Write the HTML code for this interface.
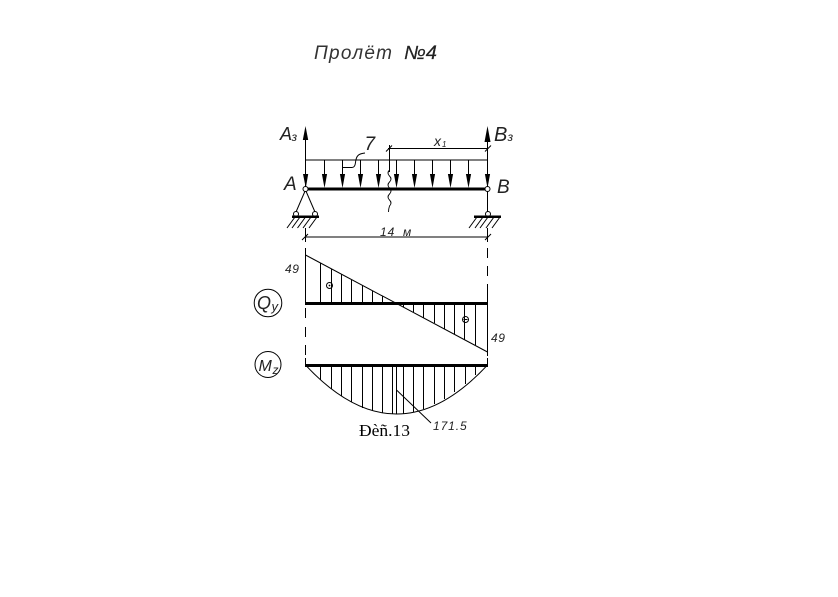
<!DOCTYPE html>
<html>
<head>
<meta charset="utf-8">
<style>
html,body{margin:0;padding:0;background:#fff;width:838px;height:597px;overflow:hidden}
svg{display:block}
text{font-family:"Liberation Sans",sans-serif;font-style:italic;fill:#222}
</style>
</head>
<body>
<svg width="838" height="597" viewBox="0 0 838 597" xmlns="http://www.w3.org/2000/svg">
<rect width="838" height="597" fill="#fff"/>
<text x="314" y="59" font-size="19" textLength="78" lengthAdjust="spacing" style="fill:#333">Пролёт</text>
<text x="404" y="59" font-size="19" textLength="33" lengthAdjust="spacingAndGlyphs" stroke="#222" stroke-width="0.2" style="fill:#222">№4</text>

<g stroke="#000" stroke-width="1" fill="none">
<path d="M305.5 138V189M487.5 138V213"/>
<path d="M305.5 160H487.5"/>
<path d="M324.5 160V175M342.5 160V175M360.5 160V175M378.5 160V175M396.5 160V175M414.5 160V175M432.5 160V175M450.5 160V175M468.5 160V175"/>
<path d="M389.5 145V172"/>
<path d="M389.5 170q-3 3 0 6t0 6q-3 3 0 6t0 6q-3 3 0 6t0 6q-1 3 -1 6" stroke-width="0.9"/>
<path d="M342.5 167.5H352q3 0 3.5 -5t2.5 -7q2 -2 7 -2.5"/>
<path d="M388 148.5H488M386 151.5L392 145.5M485 151.5L491 145.5"/>
<path d="M305 237H488M302 240L308 234M485 240L491 234"/>
<path d="M305.5 190L296 212M305.5 190L315 212"/>
<path d="M295 217L287 228M300 217L292 228M305.5 217L297.5 228M311 217L303 228M317 217L309 228"/>
<path d="M477 217L469 228M483 217L475 228M488 217L480 228M494 217L486 228M500 217L492 228"/>
<path d="M305.5 228V242M487.5 228V242"/>
<circle cx="296" cy="214" r="2.5" fill="#fff"/>
<circle cx="315" cy="214" r="2.5" fill="#fff"/>
<circle cx="488" cy="214" r="2.5" fill="#fff"/>

<path d="M305.5 248V303M305.5 308V318M305.5 327V337M305.5 345V355M305.5 358V365"/>
<path d="M487.5 248V258M487.5 266V276M487.5 284V303V352M487.5 352V356M487.5 358V365"/>
<path d="M305.5 255L487.5 352"/>
<path d="M320.5 263V303M331.5 269V303M341.5 274V303M351.5 280V303M362.5 285V303M372.5 291V303M382.5 296V303"/>
<path d="M403.5 303V307M413.5 303V312M423.5 303V318M434.5 303V323M444.5 303V329M454.5 303V334M464.5 303V340M475.5 303V345"/>
<circle cx="329.5" cy="285.5" r="3"/>
<circle cx="465.5" cy="319.5" r="3"/>
<path d="M463.5 319.5H467.5"/>

<path d="M305.5 365Q396.5 463 487.5 365"/>
<path d="M320.5 365V380M331.5 365V389M341.5 365V396M351.5 365V402M362.5 365V408M372.5 365V411M382.5 365V413M392.5 365V414M396.5 365V414M403.5 365V413.5M413.5 365V412M423.5 365V409M434.5 365V404M444.5 365V399M454.5 365V392M465.5 365V384M475.5 365V375"/>
<path d="M396.5 390L431 423"/>
<circle cx="268" cy="303" r="13.8"/>
<circle cx="268" cy="364.5" r="13"/>
</g>
<circle cx="329.5" cy="285.5" r="0.9" fill="#000"/>

<g fill="#000" stroke="none">
<path d="M302.8 140L305.5 126L308.2 140Z"/>
<path d="M484.5 142L487.5 126L490.5 142Z"/>
<path d="M303 174H308.2L305.8 188Z"/>
<path d="M321.9 174H327.1L324.5 188Z"/>
<path d="M339.9 174H345.1L342.5 188Z"/>
<path d="M357.9 174H363.1L360.5 188Z"/>
<path d="M375.9 174H381.1L378.5 188Z"/>
<path d="M393.9 174H399.1L396.5 188Z"/>
<path d="M411.9 174H417.1L414.5 188Z"/>
<path d="M429.9 174H435.1L432.5 188Z"/>
<path d="M447.9 174H453.1L450.5 188Z"/>
<path d="M465.9 174H471.1L468.5 188Z"/>
<path d="M484.9 174H490.1L487.5 188Z"/>
<rect x="305" y="187.5" width="183" height="3"/>
<rect x="292" y="215.5" width="27" height="2.5"/>
<rect x="474" y="215.5" width="27" height="2.5"/>
<rect x="305" y="302" width="183" height="3"/>
<rect x="305" y="364" width="183" height="3"/>
</g>
<circle cx="305.5" cy="189" r="2.5" fill="#fff" stroke="#000"/>
<circle cx="487.5" cy="189" r="2.5" fill="#fff" stroke="#000"/>

<text x="280" y="140" font-size="18">A</text>
<text x="291.5" y="141" font-size="12">з</text>
<text x="494" y="141" font-size="20">B</text>
<text x="507.5" y="141" font-size="12">з</text>
<text x="284" y="190" font-size="19">A</text>
<text x="497" y="193" font-size="19">B</text>
<text x="364.5" y="150" font-size="19">7</text>
<text x="434" y="146" font-size="14">x</text>
<text x="442" y="147" font-size="8">1</text>
<text x="380" y="236" font-size="12" letter-spacing="1">14</text>
<text x="403" y="236" font-size="12">м</text>
<text x="285" y="273" font-size="12" letter-spacing="0.6">49</text>
<text x="491" y="342" font-size="12" letter-spacing="0.6">49</text>
<text x="257" y="309" font-size="18">Q</text>
<text x="271.5" y="311" font-size="13">y</text>
<text x="258.5" y="371" font-size="16">M</text>
<text x="272.5" y="374" font-size="12">z</text>
<text x="433" y="430" font-size="12" letter-spacing="0.9">171.5</text>
<text x="359" y="436" font-size="17" textLength="51" lengthAdjust="spacingAndGlyphs" style="font-family:'Liberation Serif',serif;font-style:normal;fill:#000">Ðèñ.13</text>
</svg>
</body>
</html>
